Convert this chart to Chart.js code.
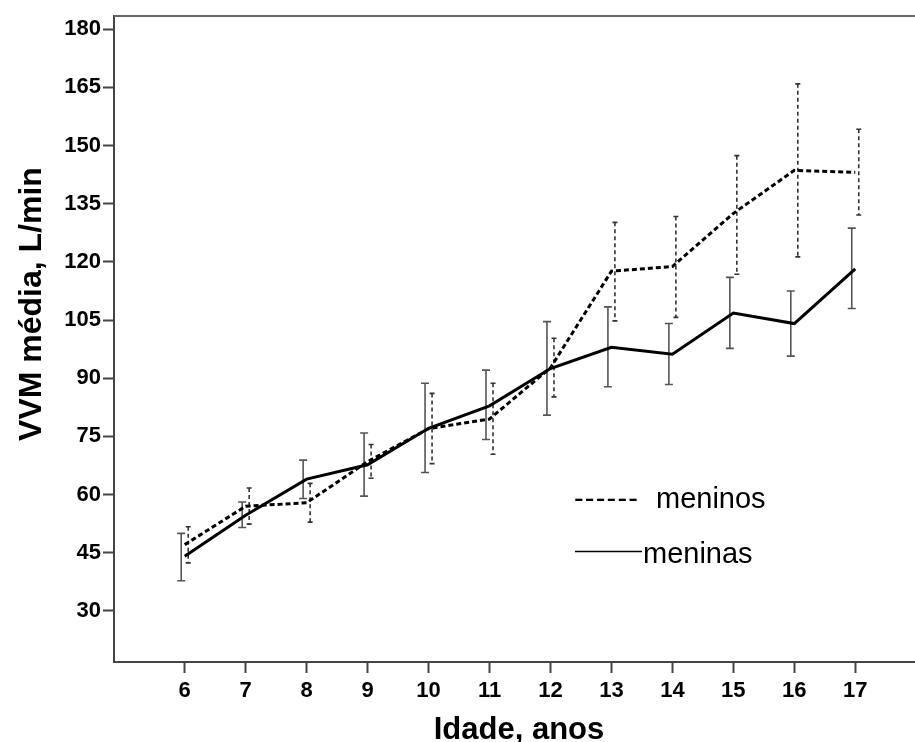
<!DOCTYPE html>
<html>
<head>
<meta charset="utf-8">
<title>VVM média por idade</title>
<script src="https://cdn.jsdelivr.net/npm/chart.js@4.4.1/dist/chart.umd.min.js"></script>
<style>
    html, body { margin: 0; padding: 0; background: #fff; }
    .wrap { width: 915px; height: 742px; position: relative; }
</style>
</head>
<body>
<div class="wrap"><canvas id="myChart" width="915" height="742"></canvas></div>
<script>
// ages on the x axis
var ages = [6, 7, 8, 9, 10, 11, 12, 13, 14, 15, 16, 17];
var yTicks = [30, 45, 60, 75, 90, 105, 120, 135, 150, 165, 180];

// meninos (dashed)
var meninosMedia = [47.1, 57.0, 57.9, 68.5, 77.0, 79.5, 92.7, 117.6, 118.8, 132.5, 143.6, 143.1];
var meninosSup = [51.7, 61.7, 62.9, 72.9, 86.1, 88.7, 100.3, 130.2, 131.7, 147.4, 165.9, 154.2];
var meninosInf = [42.4, 52.4, 52.9, 64.2, 68.0, 70.4, 85.2, 104.8, 105.7, 116.8, 121.3, 132.1];

// meninas (solid)
var meninasMedia = [44.1, 54.7, 64.0, 67.7, 77.1, 82.9, 92.5, 98.0, 96.2, 106.8, 104.1, 118.2];
var meninasSup = [50.0, 58.1, 68.9, 75.9, 88.7, 92.1, 104.6, 108.4, 104.1, 116.0, 112.5, 128.7];
var meninasInf = [37.8, 51.5, 59.0, 59.6, 65.7, 74.2, 80.5, 87.8, 88.4, 97.7, 95.7, 108.0];

var FONT = "'Liberation Sans', Arial, sans-serif";
var AXIS_COLOR = "#444";

function pts(ys) {
    return ages.map(function(a, i) { return {x: a, y: ys[i]}; });
}

// error bars, drawn under the lines, shifted a little left/right of the tick
var errorBars = {
    id: "errorBars",
    beforeDatasetsDraw: function(chart) {
        var ctx = chart.ctx, xs = chart.scales.x, ys = chart.scales.y;
        var sets = [
            {sup: meninasSup, inf: meninasInf, off: -3.5, dash: [], cap: 4, color: "#555"},
            {sup: meninosSup, inf: meninosInf, off: 3.5, dash: [4, 3], cap: 2.5, color: "#333"}
        ];
        ctx.save();
        sets.forEach(function(s) {
            ctx.strokeStyle = s.color;
            ctx.lineWidth = 1.6;
            ages.forEach(function(a, i) {
                var x = xs.getPixelForValue(a) + s.off;
                var yt = ys.getPixelForValue(s.sup[i]);
                var yb = ys.getPixelForValue(s.inf[i]);
                ctx.setLineDash(s.dash);
                ctx.beginPath();
                ctx.moveTo(x, yt);
                ctx.lineTo(x, yb);
                ctx.stroke();
                ctx.setLineDash([]);
                ctx.beginPath();
                ctx.moveTo(x - s.cap, yt); ctx.lineTo(x + s.cap, yt);
                ctx.moveTo(x - s.cap, yb); ctx.lineTo(x + s.cap, yb);
                ctx.stroke();
            });
        });
        ctx.restore();
    }
};

// top frame line, axis titles and the text legend
var decor = {
    id: "decor",
    afterDraw: function(chart) {
        var ctx = chart.ctx, area = chart.chartArea;
        ctx.save();
        ctx.strokeStyle = "#666";
        ctx.lineWidth = 2;
        ctx.beginPath();
        ctx.moveTo(area.left, area.top);
        ctx.lineTo(chart.width, area.top);
        ctx.stroke();

        ctx.fillStyle = "#000";
        ctx.font = "bold 31px " + FONT;
        ctx.textAlign = "center";
        ctx.textBaseline = "alphabetic";
        ctx.fillText("Idade, anos", 519, 739);

        ctx.save();
        ctx.font = "bold 32px " + FONT;
        ctx.translate(41, 304);
        ctx.rotate(-Math.PI / 2);
        ctx.fillText("VVM média, L/min", 0, 0);
        ctx.restore();

        ctx.font = "29px " + FONT;
        ctx.textAlign = "left";
        ctx.letterSpacing = "1.2px";
        ctx.fillText("------", 574, 508);
        ctx.letterSpacing = "0px";
        ctx.fillText("meninos", 656, 508);
        ctx.fillText("meninas", 643, 563);
        ctx.lineWidth = 1.5;
        ctx.strokeStyle = "#000";
        ctx.beginPath();
        ctx.moveTo(575, 551.5);
        ctx.lineTo(642, 551.5);
        ctx.stroke();
        ctx.restore();
    }
};

var ctx = document.getElementById("myChart").getContext("2d");
var chart = new Chart(ctx, {
    type: "line",
    data: {
        datasets: [{
            label: "meninas",
            data: pts(meninasMedia),
            borderColor: "#000",
            borderWidth: 3,
            pointRadius: 0,
            tension: 0
        }, {
            label: "meninos",
            data: pts(meninosMedia),
            borderColor: "#000",
            borderWidth: 3,
            borderDash: [5, 3],
            pointRadius: 0,
            tension: 0
        }]
    },
    options: {
        responsive: false,
        animation: false,
        layout: {padding: {top: 16, right: 0, left: 0, bottom: 0}},
        plugins: {legend: {display: false}, tooltip: {enabled: false}},
        scales: {
            x: {
                type: "linear",
                min: 4.84,
                max: 17.98,
                afterBuildTicks: function(axis) {
                    axis.ticks = ages.map(function(v) { return {value: v}; });
                },
                afterFit: function(axis) { axis.height = 80; },
                grid: {drawOnChartArea: false, tickLength: 11, tickColor: AXIS_COLOR, tickWidth: 2},
                border: {display: true, color: AXIS_COLOR, width: 2},
                ticks: {color: "#000", padding: 5, maxRotation: 0, autoSkip: false,
                        font: {family: FONT, size: 22, weight: "bold"}}
            },
            y: {
                min: 16.84,
                max: 183.4,
                afterBuildTicks: function(axis) {
                    axis.ticks = yTicks.map(function(v) { return {value: v}; });
                },
                afterFit: function(axis) { axis.width = 114; },
                grid: {drawOnChartArea: false, tickLength: 11, tickColor: AXIS_COLOR, tickWidth: 2},
                border: {display: true, color: AXIS_COLOR, width: 2},
                ticks: {color: "#000", padding: 2,
                        font: {family: FONT, size: 22, weight: "bold"}}
            }
        }
    },
    plugins: [errorBars, decor]
});
</script>
</body>
</html>
